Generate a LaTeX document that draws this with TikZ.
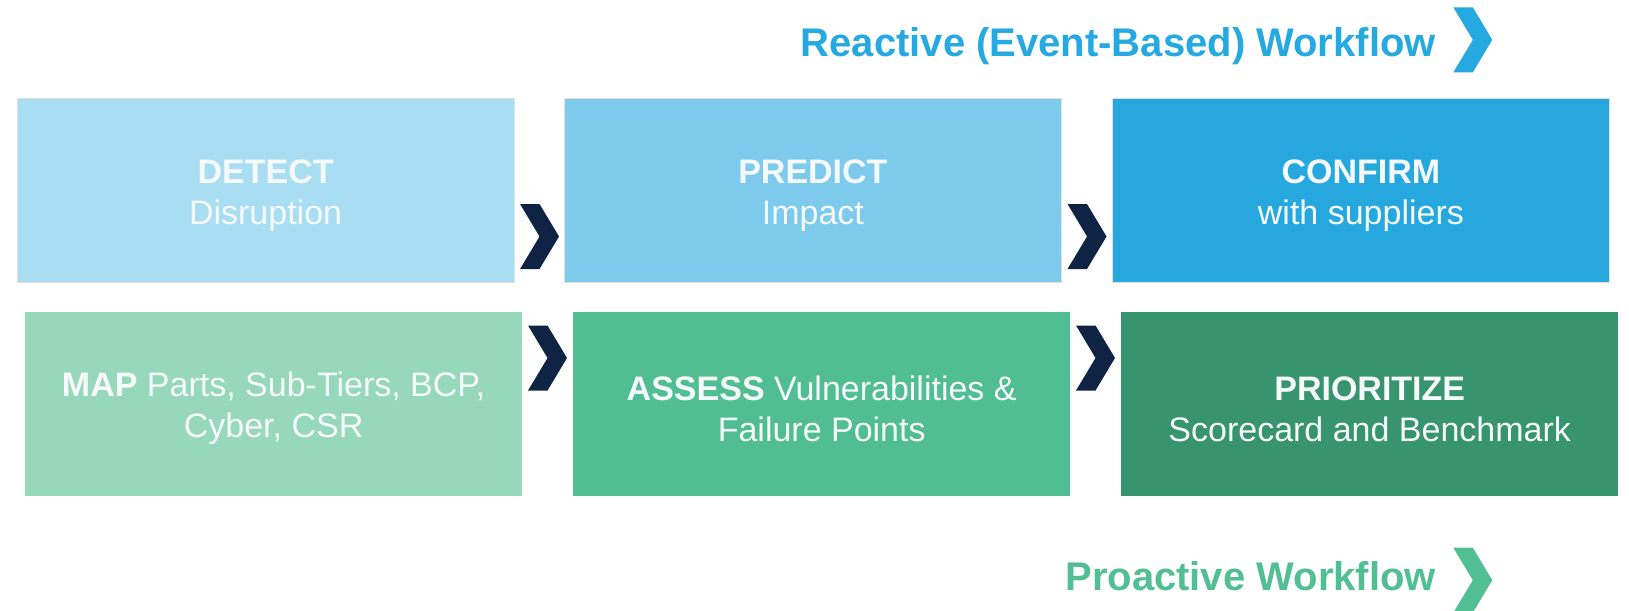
\documentclass[tikz,border=0pt]{standalone}
\usepackage{fontspec}
\setmainfont{Liberation Sans}
\definecolor{cA}{HTML}{A8DDF2}
\definecolor{cB}{HTML}{7DCAEC}
\definecolor{cC}{HTML}{26A8DF}
\definecolor{cD}{HTML}{97D8BC}
\definecolor{cE}{HTML}{51BD92}
\definecolor{cF}{HTML}{38936F}
\definecolor{navy}{HTML}{0F2444}
\definecolor{hblue}{HTML}{25A9E0}
\definecolor{hgreen}{HTML}{51BE93}
\definecolor{txt}{HTML}{F6F9FA}
\newcommand{\topstrut}{\rule{0pt}{33pt}}
\begin{document}
\begin{tikzpicture}[x=1pt,y=-1pt,
  box/.style={anchor=north west, minimum width=497pt, minimum height=184pt,
    inner sep=0pt, align=center, text=txt,
    font=\fontsize{34}{41}\selectfont},
  topbox/.style={box, draw=black!12, line width=0.8pt},
  header/.style={anchor=base east, inner sep=0pt,
    font=\fontsize{40}{46}\selectfont\bfseries},
  chev/.pic={\fill[pic actions] (0,0)--(19.5,0)--(39,32.5)--(19.5,65)--(0,65)--(19.5,32.5)--cycle;}
]
\useasboundingbox (0,0) rectangle (1629,610);

% top row (reactive)
\node[topbox, fill=cA] (detect) at (16.7,98.3) {\topstrut\textbf{DETECT}\\Disruption};
\node[topbox, fill=cB] (predict) at (564,98.3) {\topstrut\textbf{PREDICT}\\Impact};
\node[topbox, fill=cC] (confirm) at (1112,98.3) {\topstrut\textbf{CONFIRM}\\with suppliers};

% bottom row (proactive)
\node[box, fill=cD] (map) at (24.9,312) {\topstrut\textbf{MAP} Parts, Sub-Tiers, BCP,\\Cyber, CSR};
\node[box, fill=cE] (assess) at (573,312) {\topstrut\textbf{ASSESS} Vulnerabilities \&\\Failure Points};
\node[box, fill=cF] (prio) at (1121,312) {\topstrut\textbf{PRIORITIZE}\\Scorecard and Benchmark};

% chevrons between steps
\pic[fill=navy] at (520,204) {chev};
\pic[fill=navy] at (1067.5,204) {chev};
\pic[fill=navy] at (528,325.5) {chev};
\pic[fill=navy] at (1076,325.5) {chev};

% headers
\node[header, text=hblue] (reactive) at (1436,56.7) {Reactive (Event-Based) Workflow};
\pic[fill=hblue] at (1453.3,7.3) {chev};
\node[header, text=hgreen] (proactive) at (1436,590.7) {Proactive Workflow};
\pic[fill=hgreen] at (1453.3,547.7) {chev};
\end{tikzpicture}
\end{document}
